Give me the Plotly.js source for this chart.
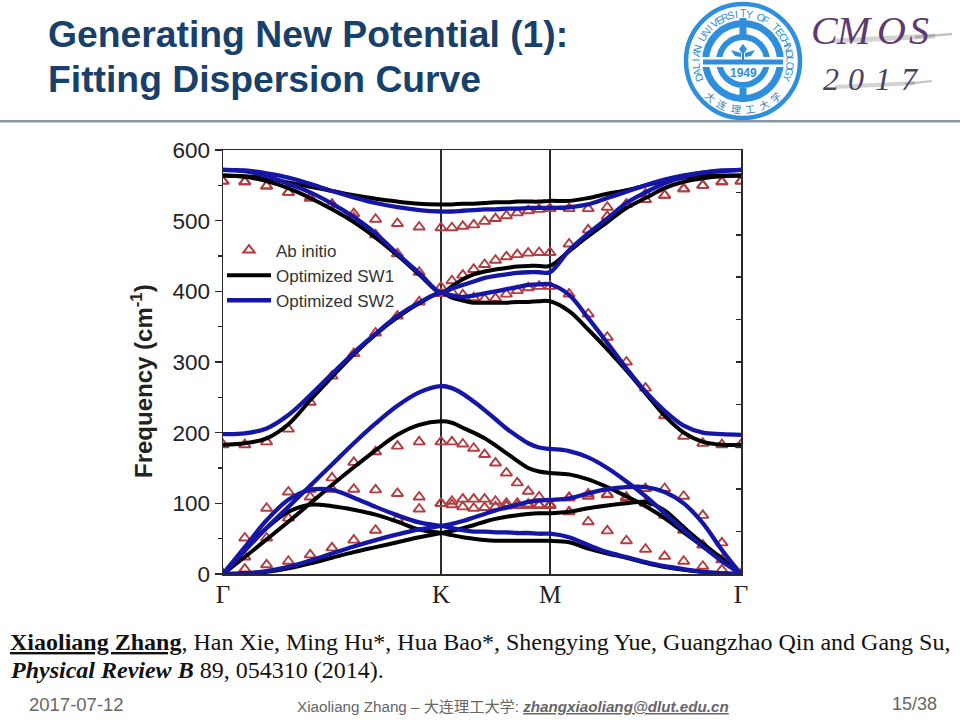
<!DOCTYPE html>
<html><head><meta charset="utf-8">
<script src="https://cdn.plot.ly/plotly-3.0.1.min.js"></script>
<style>html,body{margin:0;padding:0;background:#fff}#c{width:960px;height:720px}</style>
</head><body><div id="c"></div>
<script>
// k-path positions: Gamma, K, M, Gamma at 0, 218, 327, 518
const kPath = [0,21.8,43.6,65.4,87.2,109,130.8,152.6,174.4,196.2,218,
  228.9,239.8,250.7,261.6,272.5,283.4,294.3,305.2,316.1,327,
  346.1,365.2,384.3,403.4,422.5,441.6,460.7,479.8,498.9,518];
const kLabels = ['Γ','K','M','Γ'];
const kTicks = [0,218,327,518];

const abBand1 = [0,7,13,18,27,37,48,62,78,92,100, 98,95,93,94,95,96,97,97,97,97, 88,74,61,47,35,25,18,11,6,0];
const abBand2 = [0,24,51,79,109,120,120,119,114,109,100, 103,106,106,106,103,100,100,99,98,98, 108,110,112,107,100,83,62,41,20,0];
const abBand3 = [0,51,93,116,120,136,158,173,181,187,187, 187,184,178,169,157,143,129,117,109,98, 108,113,113,109,121,121,110,83,44,0];
const abBand4 = [183,183,187,205,243,280,312,341,365,385,397, 399,395,391,389,390,396,401,405,407,407, 396,368,335,300,263,224,195,185,183,183];
const abBand5 = [556,555,549,540,532,523,504,480,453,427,406, 415,423,431,438,444,449,452,454,455,455, 467,487,506,523,538,536,545,550,555,556];
const abBand6 = [556,555,549,540,532,523,510,502,496,491,490, 490,492,494,499,503,507,511,514,516,517, 517,517,519,523,530,536,545,550,555,556];

const sw1Band1 = [0,1,3,8,15,23,31,38,45,52,58, 61,65,69,74,78,81,83,85,86,86, 88,93,97,100,102,90,66,43,22,0];
const sw1Band2 = [0,34,65,88,98,96,91,84,74,63,58, 55,52,50,48,47,47,47,47,47,47, 45,36,29,23,16,10,6,3,1,0];
const sw1Band3 = [0,24,49,74,100,126,151,175,197,211,216, 214,207,200,192,182,171,160,150,145,143, 141,134,123,110,96,79,59,39,19,0];
const sw1Band4 = [183,185,192,212,246,279,311,339,363,383,398, 391,387,384,384,384,384,385,385,386,386, 372,346,318,288,256,224,200,187,183,183];
const sw1Band5 = [564,562,556,546,532,516,498,476,451,424,398, 407,417,424,428,431,433,435,436,436,436, 457,478,498,518,532,546,555,560,563,564];
const sw1Band6 = [564,563,560,554,548,542,536,531,527,524,523, 523,524,524,525,526,526,527,527,527,528, 528,532,538,543,550,556,561,563,564,564];

const sw2Band1 = [0,1,4,10,19,29,39,48,56,63,68, 71,75,80,85,90,94,98,102,104,105, 107,114,120,123,123,116,100,72,34,0];
const sw2Band2 = [0,38,76,105,119,119,108,95,83,73,68, 65,62,60,60,59,59,58,58,57,57, 52,41,31,24,17,11,7,3,1,0];
const sw2Band3 = [0,33,65,95,125,155,185,213,238,257,266, 263,255,244,232,219,206,195,185,179,177, 174,165,150,131,110,86,62,39,18,0];
const sw2Band4 = [198,199,206,225,253,283,313,340,365,384,398, 394,392,394,397,400,403,406,409,410,410, 395,362,327,291,258,231,210,200,198,197];
const sw2Band5 = [572,570,563,552,540,524,505,482,453,426,398, 404,409,414,419,422,424,426,427,427,427, 458,482,503,525,540,553,562,568,570,572];
const sw2Band6 = [572,571,567,561,552,542,533,525,519,515,513, 513,514,515,516,516,517,517,518,518,518, 519,523,532,541,550,558,564,568,571,572];

const legendNames = ['Ab initio','Optimized SW1','Optimized SW2'];
const rightTicks = [0,60,120,180,240,300,360,420,480,540,600];

const RED='#b23c40', BLACK='#000000', BLUE='#1616a6', INK='#2a2a2a';
const traces=[];
[abBand1,abBand2,abBand3,abBand4,abBand5,abBand6].forEach((b,i)=>traces.push({
  x:kPath,y:b,mode:'markers',name:legendNames[0],legendgroup:'a',showlegend:i===0,
  marker:{symbol:'triangle-up-open',size:10,color:RED,line:{color:RED,width:1.9}}}));
[sw1Band1,sw1Band2,sw1Band3,sw1Band4,sw1Band5,sw1Band6].forEach((b,i)=>traces.push({
  x:kPath,y:b,mode:'lines',name:legendNames[1],legendgroup:'b',showlegend:i===0,
  line:{color:BLACK,width:4,shape:'spline',smoothing:1}}));
[sw2Band1,sw2Band2,sw2Band3,sw2Band4,sw2Band5,sw2Band6].forEach((b,i)=>traces.push({
  x:kPath,y:b,mode:'lines',name:legendNames[2],legendgroup:'c',showlegend:i===0,
  line:{color:BLUE,width:4.3,shape:'spline',smoothing:1}}));
traces.push({x:[],y:[],yaxis:'y2',showlegend:false,hoverinfo:'skip',mode:'lines'});

// page-pixel helpers for the slide decoration
const L=223,W=518,B=574,H=424;
const PX=x=>(x-L)/W, PY=y=>(B-y)/H;
const note=(x,y,text,size,color,family,extra)=>Object.assign({xref:'paper',yref:'paper',x:PX(x),y:PY(y),
  text,showarrow:false,xanchor:'left',yanchor:'middle',align:'left',font:{size,color,family}},extra||{});
const circle=(cx,cy,r,fill,lc,lw)=>({type:'circle',xref:'paper',yref:'paper',x0:PX(cx-r),x1:PX(cx+r),y0:PY(cy+r),y1:PY(cy-r),
  fillcolor:fill,line:{color:lc||fill,width:lw||0},layer:'above'});
const rect=(x0,y0,x1,y1,fill)=>({type:'rect',xref:'paper',yref:'paper',x0:PX(x0),x1:PX(x1),y0:PY(y1),y1:PY(y0),
  fillcolor:fill,line:{width:0},layer:'above'});
const poly=(pts,fill)=>({type:'path',xref:'paper',yref:'paper',
  path:'M'+pts.map(p=>PX(p[0])+','+PY(p[1])).join('L')+'Z',fillcolor:fill,line:{width:0},layer:'above'});
const swash=(x0,y0,x1,y1,w,c)=>({type:'line',xref:'paper',yref:'paper',x0:PX(x0),x1:PX(x1),y0:PY(y0),y1:PY(y1),line:{color:c,width:w},layer:'below'});

const SANS='Liberation Sans, Arial, sans-serif', SERIF='Liberation Serif, Times New Roman, serif';
const LOGO='#2f8fdc', cx=743, cy=61;
const shapes=[
  rect(0,120,960,122.5,'#8797aa'),
  circle(cx,cy,57,'#ffffff',LOGO,4.5),
  circle(cx,cy,41,LOGO),
  circle(cx,cy,34,'#ffffff'),
  circle(cx,cy,27,LOGO),
  circle(cx,cy,21,'#ffffff'),
  rect(cx-44,57,cx+44,67,'#ffffff'),
  rect(cx-40,59.5,cx+40,64.5,LOGO),
  rect(cx-3.5,18,cx+3.5,36,LOGO),
  rect(cx-3.5,88,cx+3.5,102,LOGO),
  rect(cx-1,53,cx+1,60,LOGO),
  poly([[731,50],[741,53],[741,57],[735,56]],LOGO),
  poly([[755,50],[745,53],[745,57],[751,56]],LOGO),
  poly([[743,44],[747,49],[743,55],[739,49]],LOGO),
  // CMOS swashes
  swash(835,41,935,36,5,'rgba(130,130,130,0.35)'),
  swash(915,37,952,34,2.5,'rgba(120,120,120,0.45)'),
  swash(835,87,915,83,4,'rgba(130,130,130,0.35)'),
  swash(905,84,932,81,2,'rgba(120,120,120,0.45)')
];

const ring='DALIAN UNIVERSITY OF TECHNOLOGY';
const ringNotes=[...ring].map((ch,i)=>({ch,i})).filter(o=>o.ch!==' ').map(({ch,i})=>{
  const a=(-111+i*(222/(ring.length-1)))*Math.PI/180, r=47.5;
  return {xref:'paper',yref:'paper',x:PX(cx+r*Math.sin(a)),y:PY(cy-r*Math.cos(a)),text:ch,showarrow:false,
    textangle:a*180/Math.PI,xanchor:'center',yanchor:'middle',font:{size:10.5,color:LOGO,family:SANS}};
});
const sealText='大连理工大学';
const sealNotes=[...sealText].map((ch,i)=>{
  const a=(180+(2.5-i)*17)*Math.PI/180, r=48;
  return {xref:'paper',yref:'paper',x:PX(cx+r*Math.sin(a)),y:PY(cy-r*Math.cos(a)),text:ch,showarrow:false,
    textangle:a*180/Math.PI-180,xanchor:'center',yanchor:'middle',font:{size:10,color:'#3f7fb8',family:'Noto Sans CJK SC'}};
});

const PURPLE='#5d3a72', SLATE='#4b3f66';
const annotations=[
  note(46,34,'<b>Generating New Potential (1):</b>',37.3,'#17406a',SANS),
  note(46,79,'<b>Fitting Dispersion Curve</b>',37.3,'#17406a',SANS),
  note(142,381,'<b>Frequency (cm<sup>-1</sup>)</b>',24,'#222222',SANS,{textangle:-90,xanchor:'center',yanchor:'middle'}),
  note(cx,73,'<b>1949</b>',12,LOGO,SANS,{xanchor:'center'}),
  note(809,31,'<i>C</i>',40,PURPLE,SERIF),
  note(834,31,'<i>M</i>',40,PURPLE,SERIF),
  note(875,31,'<i>O</i>',40,PURPLE,SERIF),
  note(907,31,'<i>S</i>',40,PURPLE,SERIF),
  note(821,79,'<i>2</i>',32,SLATE,SERIF),
  note(846,79,'<i>0</i>',32,SLATE,SERIF),
  note(873,79,'<i>1</i>',32,SLATE,SERIF),
  note(899,79,'<i>7</i>',32,SLATE,SERIF),
  note(8,642,'<b><u>Xiaoliang Zhang</u></b>, Han Xie, Ming Hu*, Hua Bao*, Shengying Yue, Guangzhao Qin and Gang Su,',24,'#111111',SERIF),
  note(8,670,'<b><i>Physical Review B</i></b> 89, 054310 (2014).',24,'#111111',SERIF),
  note(27,704,'2017-07-12',18.5,'#666666',SANS),
  note(295,706,'Xiaoliang Zhang – 大连理工大学: <b><i><u>zhangxiaoliang@dlut.edu.cn</u></i></b>',15.2,'#666666',SANS+', Noto Sans CJK SC'),
  note(890,704,'15/38',18,'#666666',SANS),
  ...ringNotes,...sealNotes
];

const layout={
  width:960,height:720,paper_bgcolor:'#fff',plot_bgcolor:'#fff',
  margin:{l:L,r:960-L-W,t:B-H,b:720-B},
  xaxis:{range:[0,518],tickmode:'array',tickvals:kTicks,ticktext:kLabels,ticks:'',showline:true,mirror:true,linecolor:INK,linewidth:1.5,
    showgrid:true,gridcolor:INK,gridwidth:1.5,zeroline:false,ticklabelstandoff:-3,tickfont:{family:SERIF,size:25,color:'#222'}},
  yaxis:{range:[0,600],tick0:0,dtick:100,ticks:'outside',ticklen:7,tickwidth:1.5,tickcolor:INK,showline:true,linecolor:INK,linewidth:1.5,
    showgrid:false,zeroline:false,tickfont:{family:SANS,size:22.5,color:'#222'},
    minor:{ticks:'outside',ticklen:4,tickwidth:1.5,tickcolor:INK,dtick:50,showgrid:false}},
  yaxis2:{overlaying:'y',side:'right',range:[0,600],tickmode:'array',tickvals:rightTicks,showticklabels:false,ticks:'inside',ticklen:5,tickwidth:1.5,tickcolor:INK,
    showline:true,linecolor:INK,linewidth:1.5,showgrid:false,zeroline:false},
  legend:{x:PX(222),y:PY(232.5),xanchor:'left',yanchor:'top',bgcolor:'rgba(0,0,0,0)',borderwidth:0,itemwidth:44,traceorder:'grouped',tracegroupgap:0,
    font:{family:SANS,size:17,color:'#333'}},
  shapes,annotations,hovermode:false,showlegend:true
};
Plotly.newPlot('c',traces,layout,{displayModeBar:false,staticPlot:true});
</script></body></html>
